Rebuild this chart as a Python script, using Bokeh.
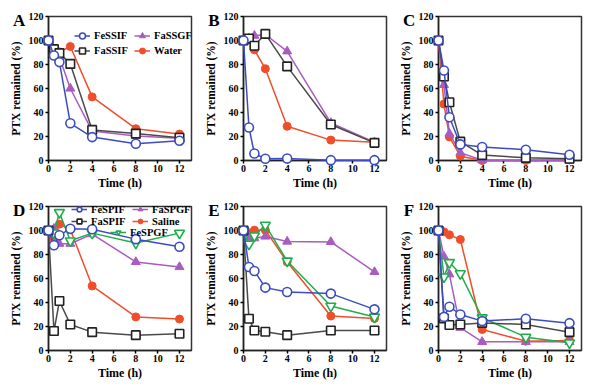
from bokeh.plotting import figure
from bokeh.layouts import column, row
from bokeh.models import Legend, LegendItem, Range1d, FixedTicker
from bokeh.core.properties import value
from bokeh.embed import file_html
from bokeh.resources import INLINE

time = [0, 0.5, 1, 2, 4, 8, 12]
x_ticks = [0, 2, 4, 6, 8, 10, 12]
y_ticks = [0, 20, 40, 60, 80, 100, 120]

# Panel A
a_fessif = [100, 87.5, 82, 31, 19.5, 14, 16.5]
a_fassif = [100, 92.8, 89.5, 80.5, 25.5, 22.4, 19]
a_fassgf = [100, 91.7, 86, 60, 24.5, 20.5, 18.5]
a_water = [100, 92, 90.5, 95, 53, 26.5, 22]
# Panel B
b_fessif = [100, 27.5, 5.8, 1.4, 1.7, 0.3, 0.3]
b_fassif = [100, 101.7, 95.6, 105.5, 78.4, 30, 14.7]
b_fassgf = [100, 101.7, 104, 105, 91, 31.3, 15.2]
b_water = [100, 101, 92.2, 76.5, 28.5, 17, 15.2]
# Panel C
c_fessif = [100, 75, 36, 13.4, 11.2, 9, 4.8]
c_fassif = [100, 70, 48.5, 15.7, 4.5, 2.2, 1.4]
c_fassgf = [100, 63, 22.4, 6.4, 0.3, 0, 0]
c_water = [100, 47, 19.6, 3.6, 0, 0, 0.5]
# Panel D
d_fespif = [100, 87.7, 96, 101.5, 101, 92.8, 86.4]
d_faspif = [100, 16.2, 41.2, 21.7, 15.3, 12.8, 13.9]
d_faspgf = [100, 101.5, 89, 89, 97, 73.8, 69.6]
d_saline = [100, 93.3, 105.3, 100.6, 53.8, 28, 26.2]
d_fespgf = [100, 98, 115, 91.4, 97.8, 89.5, 97.8]
# Panel E
e_fespif = [100, 69.6, 66.3, 52.4, 48.7, 47.4, 34.3]
e_faspif = [100, 26.5, 16.7, 15.6, 12.8, 16.7, 16.7]
e_faspgf = [100, 94, 93.6, 95, 90.8, 90.5, 65.5]
e_saline = [100, 98, 100.3, 100.3, 73.8, 28.7, 26.7]
e_fespgf = [100, 88.6, 95.5, 104.5, 74.6, 37, 27.9]
# Panel F
f_fespif = [100, 28, 36.5, 30, 24.5, 26.5, 22.8]
f_faspif = [100, 26.7, 21.2, 21.7, 23, 21.7, 15.3]
f_faspgf = [100, 78.3, 63.5, 19, 7.2, 7.2, 7.2]
f_saline = [100, 98.9, 96.4, 92.5, 17.5, 7.8, 8.4]
f_fespgf = [100, 61.3, 73.3, 64, 27.3, 11.1, 6.4]

BLUE = "#3b4cc0"
BLACK = "#222222"
GREY = "#4a4a4a"
PURPLE = "#a95cc0"
RED = "#f04e2b"
GREEN = "#1fae4b"

STYLES = {
    "blue": dict(marker="circle", size=9, line_color=BLUE, fill_color="white", line_width=1.6, lc=BLUE),
    "black": dict(marker="square", size=8.5, line_color=BLACK, fill_color="white", line_width=1.6, lc=GREY),
    "purple": dict(marker="triangle", size=9, line_color=PURPLE, fill_color=PURPLE, line_width=1, lc=PURPLE),
    "red": dict(marker="circle", size=8, line_color=RED, fill_color=RED, line_width=1, lc=RED),
    "green": dict(marker="inverted_triangle", size=10, line_color=GREEN, fill_color="white", line_width=1.6, lc=GREEN),
}

FONT = "Liberation Serif"


def make_panel(letter, series, width, height, b_top, b_right, b_bottom):
    p = figure(width=width, height=height, output_backend="svg", toolbar_location=None,
               title=None,
               x_range=Range1d(0, 13.1), y_range=Range1d(0, 120),
               min_border_left=48, min_border_right=b_right, min_border_top=b_top,
               min_border_bottom=b_bottom)
    p.xgrid.visible = False
    p.ygrid.visible = False
    p.outline_line_color = "#333333"
    p.outline_line_width = 1.5
    p.background_fill_color = "white"
    p.border_fill_color = "white"
    for ax in (p.xaxis[0], p.yaxis[0]):
        ax.axis_line_width = 1.5
        ax.axis_line_color = "#222222"
        ax.major_tick_line_width = 1.5
        ax.major_tick_in = 0
        ax.major_tick_out = 3
        ax.minor_tick_line_color = None
        ax.major_label_text_font = FONT
        ax.major_label_text_font_style = "bold"
        ax.major_label_text_font_size = "10px"
        ax.major_label_text_color = "black"
        ax.axis_label_text_font = FONT
        ax.axis_label_text_font_style = "bold"
        ax.axis_label_text_color = "black"
    p.xaxis[0].ticker = FixedTicker(ticks=x_ticks)
    p.yaxis[0].ticker = FixedTicker(ticks=y_ticks)
    p.xaxis[0].axis_label = "Time (h)"
    p.xaxis[0].axis_label_text_font_size = "12px"
    p.xaxis[0].major_label_standoff = 1
    p.xaxis[0].axis_label_standoff = 1
    p.yaxis[0].axis_label = "PTX remained (%)"
    p.yaxis[0].axis_label_text_font_size = "11.5px"
    p.yaxis[0].major_label_standoff = 2
    p.yaxis[0].axis_label_standoff = 4

    rends = {}
    for name, key, vals in series:
        st = STYLES[key]
        lr = p.line(time, vals, line_color=st["lc"], line_width=1.5)
        mr = p.scatter(time, vals, marker=st["marker"], size=st["size"],
                       line_color=st["line_color"], fill_color=st["fill_color"],
                       line_width=st["line_width"])
        lr.level = "annotation"
        mr.level = "annotation"
        rends[name] = [lr, mr]

    tr = p.text(x=[-2.7], y=[116.5], text=[letter], text_font=value(FONT), text_font_style="bold",
                text_font_size="17px", text_align="center", text_baseline="middle",
                text_color="black")
    tr.level = "annotation"
    return p, rends


def add_legend(p, rends, names, loc, lh):
    leg = Legend(items=[LegendItem(label=n, renderers=rends[n]) for n in names],
                 location=loc, orientation="vertical",
                 background_fill_alpha=0, border_line_alpha=0,
                 padding=0, margin=0, spacing=0,
                 glyph_width=16, glyph_height=lh, label_height=lh, label_standoff=4,
                 label_text_font=FONT, label_text_font_style="bold",
                 label_text_font_size="10.5px", label_text_color="black")
    p.add_layout(leg)


top_names = [("Water", "red"), ("FaSSGF", "purple"), ("FaSSIF", "black"), ("FeSSIF", "blue")]
bot_names = [("Saline", "red"), ("FaSPGF", "purple"), ("FeSPGF", "green"), ("FaSPIF", "black"), ("FeSPIF", "blue")]

TOP = dict(height=192, b_top=16, b_bottom=31)
BOT = dict(height=195, b_top=14, b_bottom=37)

pa, ra = make_panel("A", [(n, k, v) for (n, k), v in zip(top_names, [a_water, a_fassgf, a_fassif, a_fessif])], 195, b_right=4, **TOP)
pb, rb = make_panel("B", [(n, k, v) for (n, k), v in zip(top_names, [b_water, b_fassgf, b_fassif, b_fessif])], 195, b_right=4, **TOP)
pc, rc = make_panel("C", [(n, k, v) for (n, k), v in zip(top_names, [c_water, c_fassgf, c_fassif, c_fessif])], 200, b_right=9, **TOP)
pd_, rd = make_panel("D", [(n, k, v) for (n, k), v in zip(bot_names, [d_saline, d_faspgf, d_fespgf, d_faspif, d_fespif])], 195, b_right=4, **BOT)
pe, re_ = make_panel("E", [(n, k, v) for (n, k), v in zip(bot_names, [e_saline, e_faspgf, e_fespgf, e_faspif, e_fespif])], 195, b_right=4, **BOT)
pf, rf = make_panel("F", [(n, k, v) for (n, k), v in zip(bot_names, [f_saline, f_faspgf, f_fespgf, f_faspif, f_fespif])], 200, b_right=9, **BOT)

add_legend(pa, ra, ["FeSSIF", "FaSSIF"], (26, 102), 15)
add_legend(pa, ra, ["FaSSGF", "Water"], (86, 102), 15)
add_legend(pd_, rd, ["FeSPIF", "FaSPIF"], (23, 123), 12)
add_legend(pd_, rd, ["FaSPGF", "Saline"], (84, 123), 12)
add_legend(pd_, rd, ["FeSPGF"], (62, 112), 12)

layout = column(row(pa, pb, pc), row(pd_, pe, pf))
open("out.html", "w").write(file_html(layout, INLINE))
